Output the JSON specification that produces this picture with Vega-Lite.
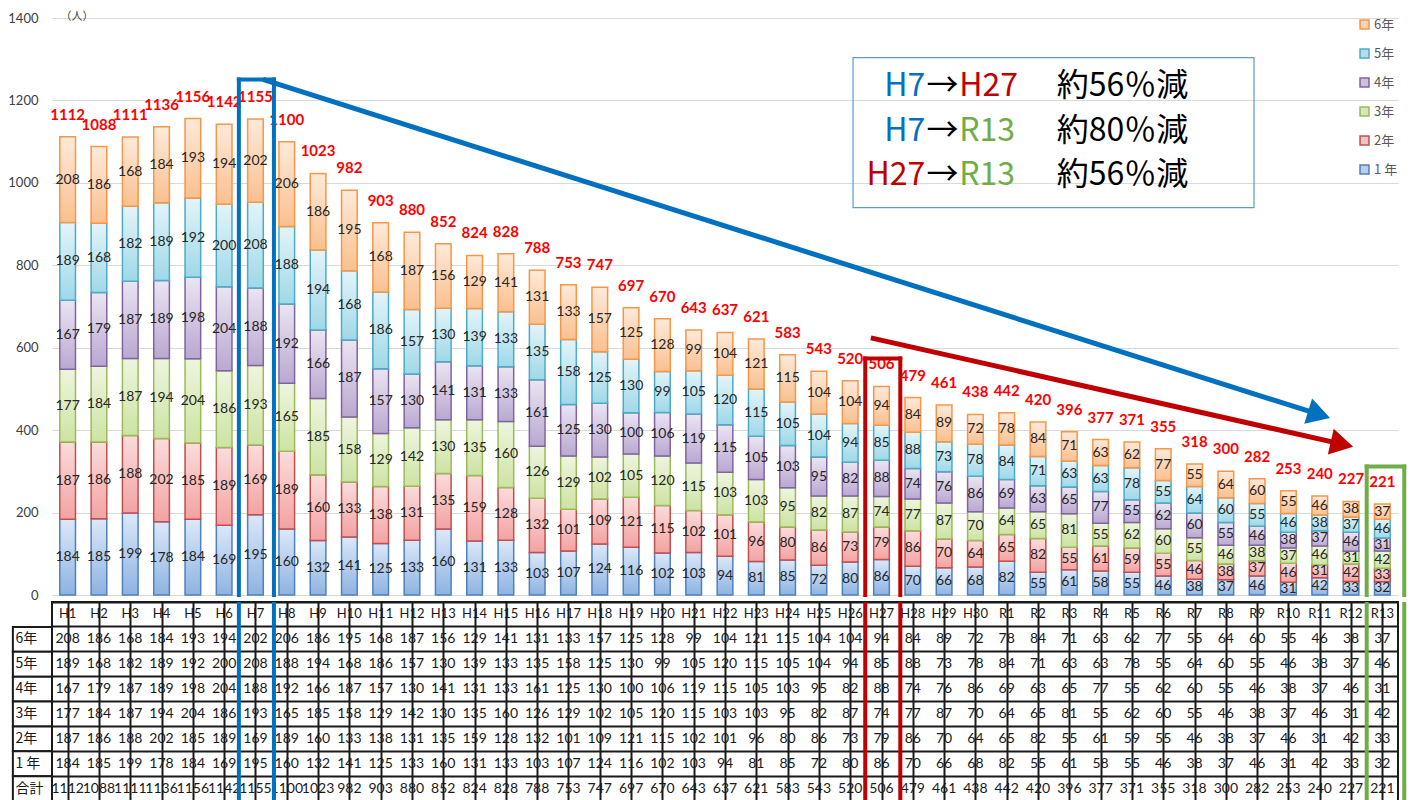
{
  "$schema": "https://vega.github.io/schema/vega-lite/v6.json",
  "background": "white",
  "padding": {"left": 7, "top": 10, "right": 0, "bottom": 0},
  "spacing": -6,
  "config": {
    "view": {"stroke": null},
    "text": {"font": "Lato"},
    "axis": {"labelFont": "Lato", "titleFont": "Noto Sans CJK JP"},
    "legend": {"labelFont": "Noto Sans CJK JP"}
  },
  "datasets": {
    "seg": [
      {"yr":"H1","g":"1 年","n":184},{"yr":"H1","g":"2年","n":187},{"yr":"H1","g":"3年","n":177},{"yr":"H1","g":"4年","n":167},{"yr":"H1","g":"5年","n":189},{"yr":"H1","g":"6年","n":208},
      {"yr":"H2","g":"1 年","n":185},{"yr":"H2","g":"2年","n":186},{"yr":"H2","g":"3年","n":184},{"yr":"H2","g":"4年","n":179},{"yr":"H2","g":"5年","n":168},{"yr":"H2","g":"6年","n":186},
      {"yr":"H3","g":"1 年","n":199},{"yr":"H3","g":"2年","n":188},{"yr":"H3","g":"3年","n":187},{"yr":"H3","g":"4年","n":187},{"yr":"H3","g":"5年","n":182},{"yr":"H3","g":"6年","n":168},
      {"yr":"H4","g":"1 年","n":178},{"yr":"H4","g":"2年","n":202},{"yr":"H4","g":"3年","n":194},{"yr":"H4","g":"4年","n":189},{"yr":"H4","g":"5年","n":189},{"yr":"H4","g":"6年","n":184},
      {"yr":"H5","g":"1 年","n":184},{"yr":"H5","g":"2年","n":185},{"yr":"H5","g":"3年","n":204},{"yr":"H5","g":"4年","n":198},{"yr":"H5","g":"5年","n":192},{"yr":"H5","g":"6年","n":193},
      {"yr":"H6","g":"1 年","n":169},{"yr":"H6","g":"2年","n":189},{"yr":"H6","g":"3年","n":186},{"yr":"H6","g":"4年","n":204},{"yr":"H6","g":"5年","n":200},{"yr":"H6","g":"6年","n":194},
      {"yr":"H7","g":"1 年","n":195},{"yr":"H7","g":"2年","n":169},{"yr":"H7","g":"3年","n":193},{"yr":"H7","g":"4年","n":188},{"yr":"H7","g":"5年","n":208},{"yr":"H7","g":"6年","n":202},
      {"yr":"H8","g":"1 年","n":160},{"yr":"H8","g":"2年","n":189},{"yr":"H8","g":"3年","n":165},{"yr":"H8","g":"4年","n":192},{"yr":"H8","g":"5年","n":188},{"yr":"H8","g":"6年","n":206},
      {"yr":"H9","g":"1 年","n":132},{"yr":"H9","g":"2年","n":160},{"yr":"H9","g":"3年","n":185},{"yr":"H9","g":"4年","n":166},{"yr":"H9","g":"5年","n":194},{"yr":"H9","g":"6年","n":186},
      {"yr":"H10","g":"1 年","n":141},{"yr":"H10","g":"2年","n":133},{"yr":"H10","g":"3年","n":158},{"yr":"H10","g":"4年","n":187},{"yr":"H10","g":"5年","n":168},{"yr":"H10","g":"6年","n":195},
      {"yr":"H11","g":"1 年","n":125},{"yr":"H11","g":"2年","n":138},{"yr":"H11","g":"3年","n":129},{"yr":"H11","g":"4年","n":157},{"yr":"H11","g":"5年","n":186},{"yr":"H11","g":"6年","n":168},
      {"yr":"H12","g":"1 年","n":133},{"yr":"H12","g":"2年","n":131},{"yr":"H12","g":"3年","n":142},{"yr":"H12","g":"4年","n":130},{"yr":"H12","g":"5年","n":157},{"yr":"H12","g":"6年","n":187},
      {"yr":"H13","g":"1 年","n":160},{"yr":"H13","g":"2年","n":135},{"yr":"H13","g":"3年","n":130},{"yr":"H13","g":"4年","n":141},{"yr":"H13","g":"5年","n":130},{"yr":"H13","g":"6年","n":156},
      {"yr":"H14","g":"1 年","n":131},{"yr":"H14","g":"2年","n":159},{"yr":"H14","g":"3年","n":135},{"yr":"H14","g":"4年","n":131},{"yr":"H14","g":"5年","n":139},{"yr":"H14","g":"6年","n":129},
      {"yr":"H15","g":"1 年","n":133},{"yr":"H15","g":"2年","n":128},{"yr":"H15","g":"3年","n":160},{"yr":"H15","g":"4年","n":133},{"yr":"H15","g":"5年","n":133},{"yr":"H15","g":"6年","n":141},
      {"yr":"H16","g":"1 年","n":103},{"yr":"H16","g":"2年","n":132},{"yr":"H16","g":"3年","n":126},{"yr":"H16","g":"4年","n":161},{"yr":"H16","g":"5年","n":135},{"yr":"H16","g":"6年","n":131},
      {"yr":"H17","g":"1 年","n":107},{"yr":"H17","g":"2年","n":101},{"yr":"H17","g":"3年","n":129},{"yr":"H17","g":"4年","n":125},{"yr":"H17","g":"5年","n":158},{"yr":"H17","g":"6年","n":133},
      {"yr":"H18","g":"1 年","n":124},{"yr":"H18","g":"2年","n":109},{"yr":"H18","g":"3年","n":102},{"yr":"H18","g":"4年","n":130},{"yr":"H18","g":"5年","n":125},{"yr":"H18","g":"6年","n":157},
      {"yr":"H19","g":"1 年","n":116},{"yr":"H19","g":"2年","n":121},{"yr":"H19","g":"3年","n":105},{"yr":"H19","g":"4年","n":100},{"yr":"H19","g":"5年","n":130},{"yr":"H19","g":"6年","n":125},
      {"yr":"H20","g":"1 年","n":102},{"yr":"H20","g":"2年","n":115},{"yr":"H20","g":"3年","n":120},{"yr":"H20","g":"4年","n":106},{"yr":"H20","g":"5年","n":99},{"yr":"H20","g":"6年","n":128},
      {"yr":"H21","g":"1 年","n":103},{"yr":"H21","g":"2年","n":102},{"yr":"H21","g":"3年","n":115},{"yr":"H21","g":"4年","n":119},{"yr":"H21","g":"5年","n":105},{"yr":"H21","g":"6年","n":99},
      {"yr":"H22","g":"1 年","n":94},{"yr":"H22","g":"2年","n":101},{"yr":"H22","g":"3年","n":103},{"yr":"H22","g":"4年","n":115},{"yr":"H22","g":"5年","n":120},{"yr":"H22","g":"6年","n":104},
      {"yr":"H23","g":"1 年","n":81},{"yr":"H23","g":"2年","n":96},{"yr":"H23","g":"3年","n":103},{"yr":"H23","g":"4年","n":105},{"yr":"H23","g":"5年","n":115},{"yr":"H23","g":"6年","n":121},
      {"yr":"H24","g":"1 年","n":85},{"yr":"H24","g":"2年","n":80},{"yr":"H24","g":"3年","n":95},{"yr":"H24","g":"4年","n":103},{"yr":"H24","g":"5年","n":105},{"yr":"H24","g":"6年","n":115},
      {"yr":"H25","g":"1 年","n":72},{"yr":"H25","g":"2年","n":86},{"yr":"H25","g":"3年","n":82},{"yr":"H25","g":"4年","n":95},{"yr":"H25","g":"5年","n":104},{"yr":"H25","g":"6年","n":104},
      {"yr":"H26","g":"1 年","n":80},{"yr":"H26","g":"2年","n":73},{"yr":"H26","g":"3年","n":87},{"yr":"H26","g":"4年","n":82},{"yr":"H26","g":"5年","n":94},{"yr":"H26","g":"6年","n":104},
      {"yr":"H27","g":"1 年","n":86},{"yr":"H27","g":"2年","n":79},{"yr":"H27","g":"3年","n":74},{"yr":"H27","g":"4年","n":88},{"yr":"H27","g":"5年","n":85},{"yr":"H27","g":"6年","n":94},
      {"yr":"H28","g":"1 年","n":70},{"yr":"H28","g":"2年","n":86},{"yr":"H28","g":"3年","n":77},{"yr":"H28","g":"4年","n":74},{"yr":"H28","g":"5年","n":88},{"yr":"H28","g":"6年","n":84},
      {"yr":"H29","g":"1 年","n":66},{"yr":"H29","g":"2年","n":70},{"yr":"H29","g":"3年","n":87},{"yr":"H29","g":"4年","n":76},{"yr":"H29","g":"5年","n":73},{"yr":"H29","g":"6年","n":89},
      {"yr":"H30","g":"1 年","n":68},{"yr":"H30","g":"2年","n":64},{"yr":"H30","g":"3年","n":70},{"yr":"H30","g":"4年","n":86},{"yr":"H30","g":"5年","n":78},{"yr":"H30","g":"6年","n":72},
      {"yr":"R1","g":"1 年","n":82},{"yr":"R1","g":"2年","n":65},{"yr":"R1","g":"3年","n":64},{"yr":"R1","g":"4年","n":69},{"yr":"R1","g":"5年","n":84},{"yr":"R1","g":"6年","n":78},
      {"yr":"R2","g":"1 年","n":55},{"yr":"R2","g":"2年","n":82},{"yr":"R2","g":"3年","n":65},{"yr":"R2","g":"4年","n":63},{"yr":"R2","g":"5年","n":71},{"yr":"R2","g":"6年","n":84},
      {"yr":"R3","g":"1 年","n":61},{"yr":"R3","g":"2年","n":55},{"yr":"R3","g":"3年","n":81},{"yr":"R3","g":"4年","n":65},{"yr":"R3","g":"5年","n":63},{"yr":"R3","g":"6年","n":71},
      {"yr":"R4","g":"1 年","n":58},{"yr":"R4","g":"2年","n":61},{"yr":"R4","g":"3年","n":55},{"yr":"R4","g":"4年","n":77},{"yr":"R4","g":"5年","n":63},{"yr":"R4","g":"6年","n":63},
      {"yr":"R5","g":"1 年","n":55},{"yr":"R5","g":"2年","n":59},{"yr":"R5","g":"3年","n":62},{"yr":"R5","g":"4年","n":55},{"yr":"R5","g":"5年","n":78},{"yr":"R5","g":"6年","n":62},
      {"yr":"R6","g":"1 年","n":46},{"yr":"R6","g":"2年","n":55},{"yr":"R6","g":"3年","n":60},{"yr":"R6","g":"4年","n":62},{"yr":"R6","g":"5年","n":55},{"yr":"R6","g":"6年","n":77},
      {"yr":"R7","g":"1 年","n":38},{"yr":"R7","g":"2年","n":46},{"yr":"R7","g":"3年","n":55},{"yr":"R7","g":"4年","n":60},{"yr":"R7","g":"5年","n":64},{"yr":"R7","g":"6年","n":55},
      {"yr":"R8","g":"1 年","n":37},{"yr":"R8","g":"2年","n":38},{"yr":"R8","g":"3年","n":46},{"yr":"R8","g":"4年","n":55},{"yr":"R8","g":"5年","n":60},{"yr":"R8","g":"6年","n":64},
      {"yr":"R9","g":"1 年","n":46},{"yr":"R9","g":"2年","n":37},{"yr":"R9","g":"3年","n":38},{"yr":"R9","g":"4年","n":46},{"yr":"R9","g":"5年","n":55},{"yr":"R9","g":"6年","n":60},
      {"yr":"R10","g":"1 年","n":31},{"yr":"R10","g":"2年","n":46},{"yr":"R10","g":"3年","n":37},{"yr":"R10","g":"4年","n":38},{"yr":"R10","g":"5年","n":46},{"yr":"R10","g":"6年","n":55},
      {"yr":"R11","g":"1 年","n":42},{"yr":"R11","g":"2年","n":31},{"yr":"R11","g":"3年","n":46},{"yr":"R11","g":"4年","n":37},{"yr":"R11","g":"5年","n":38},{"yr":"R11","g":"6年","n":46},
      {"yr":"R12","g":"1 年","n":33},{"yr":"R12","g":"2年","n":42},{"yr":"R12","g":"3年","n":31},{"yr":"R12","g":"4年","n":46},{"yr":"R12","g":"5年","n":37},{"yr":"R12","g":"6年","n":38},
      {"yr":"R13","g":"1 年","n":32},{"yr":"R13","g":"2年","n":33},{"yr":"R13","g":"3年","n":42},{"yr":"R13","g":"4年","n":31},{"yr":"R13","g":"5年","n":46},{"yr":"R13","g":"6年","n":37}
    ],
    "boxes": [
      {"k": "H7", "c0": 5.97, "c1": 7.09, "top": 1251},
      {"k": "H27", "c0": 25.98, "c1": 27.1, "top": 574},
      {"k": "R13", "c0": 42.0, "c1": 43.2, "top": 312}
    ],
    "arrows": [
      {"k": "H7", "x0": 6.74, "y0": 1251, "x1": 40.48, "y1": 438},
      {"k": "H27", "x0": 26.16, "y0": 624, "x1": 41.21, "y1": 366}
    ],
    "note": [
      {"from": "H7", "to": "H27", "pct": "約56％減", "yv": 1234},
      {"from": "H7", "to": "R13", "pct": "約80％減", "yv": 1127},
      {"from": "H27", "to": "R13", "pct": "約56％減", "yv": 1020}
    ],
    "rows": [
      {"row": "6年"}, {"row": "5年"}, {"row": "4年"}, {"row": "3年"}, {"row": "2年"}, {"row": "1 年"}, {"row": "合計"}
    ]
  },
  "data": {"name": "seg"},
  "vconcat": [
    {
      "width": 1346,
      "height": 577,
      "layer": [
        {
          "encoding": {
            "x": {"field": "yr", "type": "nominal", "axis": null,
              "scale": {"domain": ["H1","H2","H3","H4","H5","H6","H7","H8","H9","H10","H11","H12","H13","H14","H15","H16","H17","H18","H19","H20","H21","H22","H23","H24","H25","H26","H27","H28","H29","H30","R1","R2","R3","R4","R5","R6","R7","R8","R9","R10","R11","R12","R13"], "paddingInner": 0.5, "paddingOuter": 0.25}}
          },
          "layer": [
            {
              "transform": [
                {"stack": "n", "groupby": ["yr"], "sort": [{"field": "g", "order": "ascending"}], "as": ["s0", "s1"]},
                {"calculate": "(datum.s0 + datum.s1) / 2", "as": "mid"}
              ],
              "layer": [
                {
                  "mark": {"type": "bar", "strokeWidth": 1.5},
                  "encoding": {
                    "y": {"field": "s0", "type": "quantitative", "scale": {"domain": [0, 1400], "nice": false},
                      "axis": {"values": [0, 200, 400, 600, 800, 1000, 1200, 1400], "format": "d", "title": "（人）", "titleAngle": 0, "titleAlign": "left", "titleBaseline": "middle", "titleX": 8, "titleY": -2, "titleFontSize": 11, "titleFontWeight": "normal", "titleColor": "#404040", "grid": true, "gridColor": "#d9d9d9", "gridWidth": 1, "domain": false, "ticks": false, "labelPadding": 14, "labelFontSize": 13, "labelColor": "#404040"}},
                    "y2": {"field": "s1"},
                    "fill": {"field": "g", "type": "nominal",
                      "scale": {"domain": ["6年","5年","4年","3年","2年","1 年"], "range": ["#fcd5b5","#b7dee8","#ccc0da","#d7e4bd","#f2c4c4","#b9cde5"]},
                      "legend": {"title": null, "orient": "top-right", "offset": 0, "padding": 0, "symbolType": "square", "symbolSize": 80, "symbolStrokeWidth": 1.5, "labelFontSize": 13, "labelColor": "#595959", "rowPadding": 14, "labelOffset": 3},
                      "condition": [
                        {"test": "datum.g === '1 年'", "value": {"gradient": "linear", "x1": 0, "y1": 0, "x2": 0, "y2": 1, "stops": [{"offset": 0, "color": "#dce8f8"}, {"offset": 1, "color": "#8db3e2"}]}},
                        {"test": "datum.g === '2年'", "value": {"gradient": "linear", "x1": 0, "y1": 0, "x2": 0, "y2": 1, "stops": [{"offset": 0, "color": "#fbdcdc"}, {"offset": 1, "color": "#f2a3a2"}]}},
                        {"test": "datum.g === '3年'", "value": {"gradient": "linear", "x1": 0, "y1": 0, "x2": 0, "y2": 1, "stops": [{"offset": 0, "color": "#eef5df"}, {"offset": 1, "color": "#cde3a3"}]}},
                        {"test": "datum.g === '4年'", "value": {"gradient": "linear", "x1": 0, "y1": 0, "x2": 0, "y2": 1, "stops": [{"offset": 0, "color": "#ebe5f2"}, {"offset": 1, "color": "#b9a8d0"}]}},
                        {"test": "datum.g === '5年'", "value": {"gradient": "linear", "x1": 0, "y1": 0, "x2": 0, "y2": 1, "stops": [{"offset": 0, "color": "#e3f4f9"}, {"offset": 1, "color": "#9fd8e8"}]}},
                        {"test": "datum.g === '6年'", "value": {"gradient": "linear", "x1": 0, "y1": 0, "x2": 0, "y2": 1, "stops": [{"offset": 0, "color": "#fdeada"}, {"offset": 1, "color": "#fac08f"}]}}
                      ]
                    },
                    "stroke": {"field": "g", "type": "nominal",
                      "scale": {"domain": ["6年","5年","4年","3年","2年","1 年"], "range": ["#f79646","#4bacc6","#8064a2","#9bbb59","#c0504d","#4f81bd"]},
                      "legend": {"title": null, "orient": "top-right", "offset": 0, "padding": 0, "symbolType": "square", "symbolSize": 80, "symbolStrokeWidth": 1.5, "labelFontSize": 13, "labelColor": "#595959", "rowPadding": 14, "labelOffset": 3}}
                  }
                },
                {
                  "mark": {"type": "text", "fontSize": 14, "color": "#262626"},
                  "encoding": {
                    "y": {"field": "mid", "type": "quantitative", "scale": {"domain": [0, 1400], "nice": false},
                      "axis": {"values": [0, 200, 400, 600, 800, 1000, 1200, 1400], "format": "d", "title": "（人）", "titleAngle": 0, "titleAlign": "left", "titleBaseline": "middle", "titleX": 8, "titleY": -2, "titleFontSize": 11, "titleFontWeight": "normal", "titleColor": "#404040", "grid": true, "gridColor": "#d9d9d9", "gridWidth": 1, "domain": false, "ticks": false, "labelPadding": 14, "labelFontSize": 13, "labelColor": "#404040"}},
                    "text": {"field": "n"}
                  }
                }
              ]
            },
            {
              "transform": [{"aggregate": [{"op": "sum", "field": "n", "as": "tot"}], "groupby": ["yr"]}],
              "mark": {"type": "text", "baseline": "middle", "dy": -22, "fontSize": 15, "fontWeight": "bold", "color": "#ff0000"},
              "encoding": {
                "y": {"field": "tot", "type": "quantitative", "scale": {"domain": [0, 1400], "nice": false},
                  "axis": {"values": [0, 200, 400, 600, 800, 1000, 1200, 1400], "format": "d", "title": "（人）", "titleAngle": 0, "titleAlign": "left", "titleBaseline": "middle", "titleX": 8, "titleY": -2, "titleFontSize": 11, "titleFontWeight": "normal", "titleColor": "#404040", "grid": true, "gridColor": "#d9d9d9", "gridWidth": 1, "domain": false, "ticks": false, "labelPadding": 14, "labelFontSize": 13, "labelColor": "#404040"}},
                "text": {"field": "tot"}
              }
            }
          ]
        },
        {
          "layer": [
            {
              "data": {"name": "boxes"},
              "mark": {"type": "rule", "strokeWidth": 4, "strokeCap": "square"},
              "encoding": {
                "x": {"field": "c0", "type": "quantitative", "scale": {"domain": [0, 43], "nice": false, "zero": false}, "axis": null},
                "y": {"field": "top", "type": "quantitative", "scale": {"domain": [0, 1400], "nice": false},
                  "axis": {"values": [0, 200, 400, 600, 800, 1000, 1200, 1400], "format": "d", "title": "（人）", "titleAngle": 0, "titleAlign": "left", "titleBaseline": "middle", "titleX": 8, "titleY": -2, "titleFontSize": 11, "titleFontWeight": "normal", "titleColor": "#404040", "grid": true, "gridColor": "#d9d9d9", "gridWidth": 1, "domain": false, "ticks": false, "labelPadding": 14, "labelFontSize": 13, "labelColor": "#404040"}},
                "y2": {"datum": 0},
                "color": {"field": "k", "type": "nominal", "scale": {"domain": ["H7","H27","R13"], "range": ["#0070c0","#c00000","#70ad47"]}, "legend": null}
              }
            },
            {
              "data": {"name": "boxes"},
              "mark": {"type": "rule", "strokeWidth": 4, "strokeCap": "square"},
              "encoding": {
                "x": {"field": "c1", "type": "quantitative", "scale": {"domain": [0, 43], "nice": false, "zero": false}, "axis": null},
                "y": {"field": "top", "type": "quantitative", "scale": {"domain": [0, 1400], "nice": false},
                  "axis": {"values": [0, 200, 400, 600, 800, 1000, 1200, 1400], "format": "d", "title": "（人）", "titleAngle": 0, "titleAlign": "left", "titleBaseline": "middle", "titleX": 8, "titleY": -2, "titleFontSize": 11, "titleFontWeight": "normal", "titleColor": "#404040", "grid": true, "gridColor": "#d9d9d9", "gridWidth": 1, "domain": false, "ticks": false, "labelPadding": 14, "labelFontSize": 13, "labelColor": "#404040"}},
                "y2": {"datum": 0},
                "color": {"field": "k", "type": "nominal", "scale": {"domain": ["H7","H27","R13"], "range": ["#0070c0","#c00000","#70ad47"]}, "legend": null}
              }
            },
            {
              "data": {"name": "boxes"},
              "mark": {"type": "rule", "strokeWidth": 4, "strokeCap": "square"},
              "encoding": {
                "x": {"field": "c0", "type": "quantitative", "scale": {"domain": [0, 43], "nice": false, "zero": false}, "axis": null},
                "x2": {"field": "c1"},
                "y": {"field": "top", "type": "quantitative", "scale": {"domain": [0, 1400], "nice": false},
                  "axis": {"values": [0, 200, 400, 600, 800, 1000, 1200, 1400], "format": "d", "title": "（人）", "titleAngle": 0, "titleAlign": "left", "titleBaseline": "middle", "titleX": 8, "titleY": -2, "titleFontSize": 11, "titleFontWeight": "normal", "titleColor": "#404040", "grid": true, "gridColor": "#d9d9d9", "gridWidth": 1, "domain": false, "ticks": false, "labelPadding": 14, "labelFontSize": 13, "labelColor": "#404040"}},
                "color": {"field": "k", "type": "nominal", "scale": {"domain": ["H7","H27","R13"], "range": ["#0070c0","#c00000","#70ad47"]}, "legend": null}
              }
            },
            {
              "data": {"name": "arrows"},
              "mark": {"type": "rule", "strokeWidth": 5},
              "encoding": {
                "x": {"field": "x0", "type": "quantitative", "scale": {"domain": [0, 43], "nice": false, "zero": false}, "axis": null},
                "x2": {"field": "x1"},
                "y": {"field": "y0", "type": "quantitative", "scale": {"domain": [0, 1400], "nice": false},
                  "axis": {"values": [0, 200, 400, 600, 800, 1000, 1200, 1400], "format": "d", "title": "（人）", "titleAngle": 0, "titleAlign": "left", "titleBaseline": "middle", "titleX": 8, "titleY": -2, "titleFontSize": 11, "titleFontWeight": "normal", "titleColor": "#404040", "grid": true, "gridColor": "#d9d9d9", "gridWidth": 1, "domain": false, "ticks": false, "labelPadding": 14, "labelFontSize": 13, "labelColor": "#404040"}},
                "y2": {"field": "y1"},
                "color": {"field": "k", "type": "nominal", "scale": {"domain": ["H7","H27","R13"], "range": ["#0070c0","#c00000","#70ad47"]}, "legend": null}
              }
            },
            {
              "data": {"name": "arrows"},
              "transform": [{"filter": "datum.k === 'H7'"}],
              "mark": {"type": "point", "shape": "triangle-right", "filled": true, "opacity": 1, "size": 700, "angle": 17.3},
              "encoding": {
                "x": {"field": "x1", "type": "quantitative", "scale": {"domain": [0, 43], "nice": false, "zero": false}, "axis": null},
                "y": {"field": "y1", "type": "quantitative", "scale": {"domain": [0, 1400], "nice": false},
                  "axis": {"values": [0, 200, 400, 600, 800, 1000, 1200, 1400], "format": "d", "title": "（人）", "titleAngle": 0, "titleAlign": "left", "titleBaseline": "middle", "titleX": 8, "titleY": -2, "titleFontSize": 11, "titleFontWeight": "normal", "titleColor": "#404040", "grid": true, "gridColor": "#d9d9d9", "gridWidth": 1, "domain": false, "ticks": false, "labelPadding": 14, "labelFontSize": 13, "labelColor": "#404040"}},
                "color": {"field": "k", "type": "nominal", "scale": {"domain": ["H7","H27","R13"], "range": ["#0070c0","#c00000","#70ad47"]}, "legend": null}
              }
            },
            {
              "data": {"name": "arrows"},
              "transform": [{"filter": "datum.k === 'H27'"}],
              "mark": {"type": "point", "shape": "triangle-right", "filled": true, "opacity": 1, "size": 700, "angle": 12.8},
              "encoding": {
                "x": {"field": "x1", "type": "quantitative", "scale": {"domain": [0, 43], "nice": false, "zero": false}, "axis": null},
                "y": {"field": "y1", "type": "quantitative", "scale": {"domain": [0, 1400], "nice": false},
                  "axis": {"values": [0, 200, 400, 600, 800, 1000, 1200, 1400], "format": "d", "title": "（人）", "titleAngle": 0, "titleAlign": "left", "titleBaseline": "middle", "titleX": 8, "titleY": -2, "titleFontSize": 11, "titleFontWeight": "normal", "titleColor": "#404040", "grid": true, "gridColor": "#d9d9d9", "gridWidth": 1, "domain": false, "ticks": false, "labelPadding": 14, "labelFontSize": 13, "labelColor": "#404040"}},
                "color": {"field": "k", "type": "nominal", "scale": {"domain": ["H7","H27","R13"], "range": ["#0070c0","#c00000","#70ad47"]}, "legend": null}
              }
            },
            {
              "data": {"values": [{}]},
              "mark": {"type": "rect", "fill": "transparent", "stroke": "#5b9bd5", "strokeWidth": 1.2},
              "encoding": {
                "x": {"datum": 25.59, "type": "quantitative", "scale": {"domain": [0, 43], "nice": false, "zero": false}, "axis": null},
                "x2": {"datum": 38.4},
                "y": {"datum": 1304, "type": "quantitative", "scale": {"domain": [0, 1400], "nice": false},
                  "axis": {"values": [0, 200, 400, 600, 800, 1000, 1200, 1400], "format": "d", "title": "（人）", "titleAngle": 0, "titleAlign": "left", "titleBaseline": "middle", "titleX": 8, "titleY": -2, "titleFontSize": 11, "titleFontWeight": "normal", "titleColor": "#404040", "grid": true, "gridColor": "#d9d9d9", "gridWidth": 1, "domain": false, "ticks": false, "labelPadding": 14, "labelFontSize": 13, "labelColor": "#404040"}},
                "y2": {"datum": 940}
              }
            },
            {
              "data": {"name": "note"},
              "mark": {"type": "text", "font": "Noto Sans CJK JP", "fontSize": 32, "align": "right", "baseline": "middle"},
              "encoding": {
                "x": {"datum": 27.9, "type": "quantitative", "scale": {"domain": [0, 43], "nice": false, "zero": false}, "axis": null},
                "y": {"field": "yv", "type": "quantitative", "scale": {"domain": [0, 1400], "nice": false},
                  "axis": {"values": [0, 200, 400, 600, 800, 1000, 1200, 1400], "format": "d", "title": "（人）", "titleAngle": 0, "titleAlign": "left", "titleBaseline": "middle", "titleX": 8, "titleY": -2, "titleFontSize": 11, "titleFontWeight": "normal", "titleColor": "#404040", "grid": true, "gridColor": "#d9d9d9", "gridWidth": 1, "domain": false, "ticks": false, "labelPadding": 14, "labelFontSize": 13, "labelColor": "#404040"}},
                "text": {"field": "from"},
                "color": {"field": "from", "type": "nominal", "scale": {"domain": ["H7","H27","R13"], "range": ["#0070c0","#c00000","#70ad47"]}, "legend": null}
              }
            },
            {
              "data": {"name": "note"},
              "mark": {"type": "text", "font": "Noto Sans CJK JP", "fontSize": 32, "align": "center", "baseline": "middle", "text": "→", "color": "#000000"},
              "encoding": {
                "x": {"datum": 28.45, "type": "quantitative", "scale": {"domain": [0, 43], "nice": false, "zero": false}, "axis": null},
                "y": {"field": "yv", "type": "quantitative", "scale": {"domain": [0, 1400], "nice": false},
                  "axis": {"values": [0, 200, 400, 600, 800, 1000, 1200, 1400], "format": "d", "title": "（人）", "titleAngle": 0, "titleAlign": "left", "titleBaseline": "middle", "titleX": 8, "titleY": -2, "titleFontSize": 11, "titleFontWeight": "normal", "titleColor": "#404040", "grid": true, "gridColor": "#d9d9d9", "gridWidth": 1, "domain": false, "ticks": false, "labelPadding": 14, "labelFontSize": 13, "labelColor": "#404040"}}
              }
            },
            {
              "data": {"name": "note"},
              "mark": {"type": "text", "font": "Noto Sans CJK JP", "fontSize": 32, "align": "left", "baseline": "middle"},
              "encoding": {
                "x": {"datum": 28.98, "type": "quantitative", "scale": {"domain": [0, 43], "nice": false, "zero": false}, "axis": null},
                "y": {"field": "yv", "type": "quantitative", "scale": {"domain": [0, 1400], "nice": false},
                  "axis": {"values": [0, 200, 400, 600, 800, 1000, 1200, 1400], "format": "d", "title": "（人）", "titleAngle": 0, "titleAlign": "left", "titleBaseline": "middle", "titleX": 8, "titleY": -2, "titleFontSize": 11, "titleFontWeight": "normal", "titleColor": "#404040", "grid": true, "gridColor": "#d9d9d9", "gridWidth": 1, "domain": false, "ticks": false, "labelPadding": 14, "labelFontSize": 13, "labelColor": "#404040"}},
                "text": {"field": "to"},
                "color": {"field": "to", "type": "nominal", "scale": {"domain": ["H7","H27","R13"], "range": ["#0070c0","#c00000","#70ad47"]}, "legend": null}
              }
            },
            {
              "data": {"name": "note"},
              "mark": {"type": "text", "font": "Noto Sans CJK JP", "fontSize": 32, "align": "left", "baseline": "middle", "color": "#000000"},
              "encoding": {
                "x": {"datum": 32.1, "type": "quantitative", "scale": {"domain": [0, 43], "nice": false, "zero": false}, "axis": null},
                "y": {"field": "yv", "type": "quantitative", "scale": {"domain": [0, 1400], "nice": false},
                  "axis": {"values": [0, 200, 400, 600, 800, 1000, 1200, 1400], "format": "d", "title": "（人）", "titleAngle": 0, "titleAlign": "left", "titleBaseline": "middle", "titleX": 8, "titleY": -2, "titleFontSize": 11, "titleFontWeight": "normal", "titleColor": "#404040", "grid": true, "gridColor": "#d9d9d9", "gridWidth": 1, "domain": false, "ticks": false, "labelPadding": 14, "labelFontSize": 13, "labelColor": "#404040"}},
                "text": {"field": "pct"}
              }
            }
          ]
        }
      ],
      "resolve": {"scale": {"x": "independent"}}
    },
    {
      "width": 1346,
      "height": 199,
      "view": {"stroke": "#1a1a1a", "strokeWidth": 2},
      "layer": [
        {
          "encoding": {
            "x": {"field": "yr", "type": "nominal",
              "scale": {"domain": ["H1","H2","H3","H4","H5","H6","H7","H8","H9","H10","H11","H12","H13","H14","H15","H16","H17","H18","H19","H20","H21","H22","H23","H24","H25","H26","H27","H28","H29","H30","R1","R2","R3","R4","R5","R6","R7","R8","R9","R10","R11","R12","R13"], "paddingInner": 0, "paddingOuter": 0},
              "axis": {"grid": true, "bandPosition": 0, "labels": false, "ticks": false, "domain": false, "title": null, "gridColor": "#1a1a1a", "gridWidth": 2}}
          },
          "layer": [
            {
              "mark": {"type": "text", "fontSize": 14, "color": "#1a1a1a"},
              "encoding": {
                "y": {"field": "g", "type": "nominal",
                  "scale": {"domain": ["hdr","6年","5年","4年","3年","2年","1 年","合計"], "paddingInner": 0, "paddingOuter": 0},
                  "axis": {"grid": true, "bandPosition": 0, "labels": false, "ticks": false, "domain": false, "title": null, "gridColor": "#1a1a1a", "gridWidth": 2}},
                "text": {"field": "n"}
              }
            },
            {
              "transform": [{"aggregate": [{"op": "sum", "field": "n", "as": "tot"}], "groupby": ["yr"]}],
              "mark": {"type": "text", "fontSize": 14, "color": "#1a1a1a"},
              "encoding": {
                "y": {"datum": "合計", "type": "nominal", "scale": {"domain": ["hdr","6年","5年","4年","3年","2年","1 年","合計"], "paddingInner": 0, "paddingOuter": 0},
                  "axis": {"grid": true, "bandPosition": 0, "labels": false, "ticks": false, "domain": false, "title": null, "gridColor": "#1a1a1a", "gridWidth": 2}},
                "text": {"field": "tot"}
              }
            },
            {
              "transform": [{"filter": "datum.g === '1 年'"}],
              "mark": {"type": "text", "fontSize": 13, "color": "#1a1a1a"},
              "encoding": {
                "y": {"datum": "hdr", "type": "nominal", "scale": {"domain": ["hdr","6年","5年","4年","3年","2年","1 年","合計"], "paddingInner": 0, "paddingOuter": 0},
                  "axis": {"grid": true, "bandPosition": 0, "labels": false, "ticks": false, "domain": false, "title": null, "gridColor": "#1a1a1a", "gridWidth": 2}},
                "text": {"field": "yr"}
              }
            }
          ]
        },
        {
          "data": {"name": "rows"},
          "layer": [
            {
              "mark": {"type": "rect", "fill": "white", "stroke": "#1a1a1a", "strokeWidth": 2},
              "encoding": {
                "x": {"datum": -1.25, "type": "quantitative", "scale": {"domain": [0, 43], "nice": false, "zero": false}, "axis": null},
                "x2": {"datum": 0},
                "y": {"field": "row", "type": "nominal", "scale": {"domain": ["hdr","6年","5年","4年","3年","2年","1 年","合計"], "paddingInner": 0, "paddingOuter": 0},
                  "axis": {"grid": true, "bandPosition": 0, "labels": false, "ticks": false, "domain": false, "title": null, "gridColor": "#1a1a1a", "gridWidth": 2}}
              }
            },
            {
              "mark": {"type": "text", "font": "Noto Sans CJK JP", "fontSize": 14, "align": "left", "color": "#1a1a1a"},
              "encoding": {
                "x": {"datum": -1.17, "type": "quantitative", "scale": {"domain": [0, 43], "nice": false, "zero": false}, "axis": null},
                "y": {"field": "row", "type": "nominal", "scale": {"domain": ["hdr","6年","5年","4年","3年","2年","1 年","合計"], "paddingInner": 0, "paddingOuter": 0},
                  "axis": {"grid": true, "bandPosition": 0, "labels": false, "ticks": false, "domain": false, "title": null, "gridColor": "#1a1a1a", "gridWidth": 2}},
                "text": {"field": "row"}
              }
            }
          ]
        },
        {
          "data": {"name": "boxes"},
          "layer": [
            {
              "mark": {"type": "rule", "strokeWidth": 4},
              "encoding": {
                "x": {"field": "c0", "type": "quantitative", "scale": {"domain": [0, 43], "nice": false, "zero": false}, "axis": null},
                "color": {"field": "k", "type": "nominal", "scale": {"domain": ["H7","H27","R13"], "range": ["#0070c0","#c00000","#70ad47"]}, "legend": null}
              }
            },
            {
              "mark": {"type": "rule", "strokeWidth": 4},
              "encoding": {
                "x": {"field": "c1", "type": "quantitative", "scale": {"domain": [0, 43], "nice": false, "zero": false}, "axis": null},
                "color": {"field": "k", "type": "nominal", "scale": {"domain": ["H7","H27","R13"], "range": ["#0070c0","#c00000","#70ad47"]}, "legend": null}
              }
            }
          ]
        }
      ],
      "resolve": {"scale": {"x": "independent"}}
    }
  ]
}
